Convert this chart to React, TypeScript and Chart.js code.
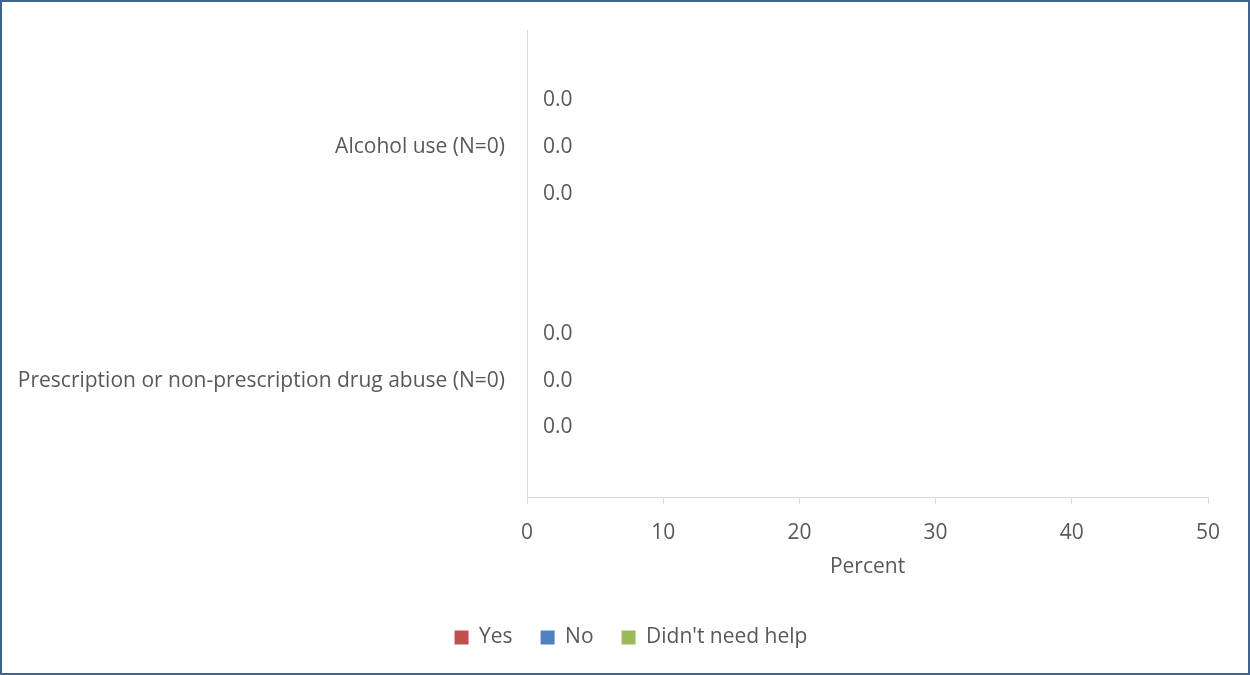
import React, { useEffect, useRef } from "react";
import { Chart, registerables } from "chart.js";

Chart.register(...registerables);

const categories = ["Alcohol use (N=0)", "Prescription or non-prescription drug abuse (N=0)"];
const seriesNames = ["Yes", "No", "Didn't need help"];
const yesValues = [0, 0];
const noValues = [0, 0];
const didntNeedValues = [0, 0];

const FONT = "'Open Sans', sans-serif";
const TEXT = "#595959";
const FS = 21;

const valueLabels = {
  id: "valueLabels",
  afterDatasetsDraw(chart: any) {
    const ctx = chart.ctx;
    ctx.save();
    ctx.font = `${FS}px ${FONT}`;
    ctx.fillStyle = TEXT;
    ctx.textAlign = "left";
    ctx.textBaseline = "middle";
    chart.data.datasets.forEach((ds: any, di: number) => {
      const meta = chart.getDatasetMeta(di);
      meta.data.forEach((el: any, i: number) => {
        const v = ds.data[i];
        ctx.fillText(Number(v).toFixed(1), el.x + 16, el.y);
      });
    });
    ctx.restore();
  },
};

const legendShift = {
  id: "legendShift",
  afterLayout(chart: any) {
    const lg = chart.legend;
    if (lg) {
      lg.left += 21;
      lg.right += 21;
    }
  },
};

export default function App() {
  const ref = useRef<HTMLCanvasElement>(null);
  useEffect(() => {
    const chart = new Chart(ref.current!, {
      type: "bar",
      data: {
        labels: categories,
        datasets: [
          { label: seriesNames[2], data: didntNeedValues, backgroundColor: "#9bbb59" },
          { label: seriesNames[1], data: noValues, backgroundColor: "#4f81bd" },
          { label: seriesNames[0], data: yesValues, backgroundColor: "#c0504d" },
        ],
      },
      options: {
        indexAxis: "y",
        animation: false,
        responsive: false,
        maintainAspectRatio: false,
        layout: { padding: { left: 10, right: 40, top: 28, bottom: 15 } },
        datasets: { bar: { categoryPercentage: 0.6, barPercentage: 1 } },
        scales: {
          x: {
            min: 0,
            max: 50,
            ticks: {
              stepSize: 10,
              color: TEXT,
              font: { family: FONT, size: FS },
              padding: 17,
              callback: (v: any) => String(v),
            },
            grid: { drawOnChartArea: false, drawTicks: true, tickLength: 6, color: "#d9d9d9" },
            border: { display: true, color: "#d9d9d9", width: 1 },
            title: {
              display: true,
              text: "Percent",
              color: TEXT,
              font: { family: FONT, size: FS },
              padding: { top: -8, bottom: 19 },
            },
          },
          y: {
            afterFit: (s: any) => { s.width = 515; },
            ticks: { color: TEXT, font: { family: FONT, size: FS }, padding: 14 },
            grid: { display: false },
            border: { display: true, color: "#d9d9d9", width: 1 },
          },
        },
        plugins: {
          legend: {
            position: "bottom",
            reverse: true,
            labels: {
              color: TEXT,
              font: { family: FONT, size: FS },
              boxWidth: 14,
              boxHeight: 14,
              padding: 28,
            },
          },
          tooltip: { enabled: false },
        },
      },
      plugins: [valueLabels, legendShift],
    });
    return () => chart.destroy();
  }, []);
  return (
    <div style={{ position: "absolute", left: 0, top: 0, width: 1250, height: 675, boxSizing: "border-box", border: "2px solid #41648f", background: "#fff" }}>
      <canvas ref={ref} width={1246} height={671} style={{ display: "block" }} />
    </div>
  );
}
